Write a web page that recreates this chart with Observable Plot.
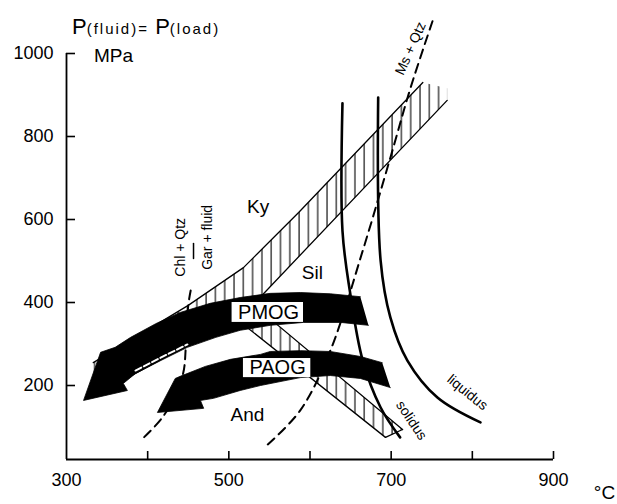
<!DOCTYPE html>
<html><head><meta charset="utf-8">
<script src="https://cdn.jsdelivr.net/npm/d3@7"></script>
<script src="https://cdn.jsdelivr.net/npm/@observablehq/plot@0.6"></script>
<style>body{margin:0;background:#fff} svg{display:block}</style>
</head><body><div id="chart"></div>
<script>
// axis ticks
const xTicks = [400, 500, 600, 700, 800, 900];
const xTickLabels = [300, 500, 700, 900];
const yTicks = [200, 400, 600, 800, 1000];

// curves [T (°C), P (MPa)]
const solidus = [[640,880],[640,573],[649,429],[665,260],[687,147],[711,75]];
const liquidus = [[684,894],[687,501],[699,364],[720,260],[757,171],[810,111]];
const msQtz = [[548,58],[588,140],[625,284],[665,525],[699,749],[724,918],[752,1084]];
const chlQtz = [[453,429],[450,393],[447,292],[443,224],[420,128],[391,67]];

// Al2SiO5 uncertainty bands
const bandOutline = [[333,255],[450,393],[518,484],[586,617],[739,930],[769,916],[769,887],[530,395],[714,94],[693,75],[509,361],[385,229],[333,173]];
const upperEdge = [[333,255],[450,393],[518,484],[586,617],[739,930]];
const kySilLower = [[769,887],[530,395]];
const silAndRight = [[530,395],[714,94]];
const silAndLeft = [[509,361],[693,75]];
const silAndCap = [[714,94],[693,75]];
const kyAndLower = [[333,173],[385,229],[509,361]];
const kyAndLowerOnArrow = [[385,236],[416,267],[449,299]];

// P-T path arrows (outlines)
const pmogArrow = [[662,414],[625,421],[588,424],[551,422],[514,412],[477,398],[440,376],[410,349],[379,316],[360,292],[342,280],[321,164],[375,188],[370,205],[385,229],[416,260],[449,292],[484,316],[514,333],[551,345],[592,352],[638,352],[672,345]];
const paogArrow = [[689,255],[662,270],[625,282],[588,284],[551,282],[539,275],[502,263],[471,246],[440,222],[434,217],[412,135],[469,145],[465,164],[481,169],[514,188],[539,200],[588,219],[625,224],[662,217],[699,195]];

// label boxes
const pathLabels = [
  {text: "PMOG", T: 549, P: 376, T1: 504, T2: 592, P1: 352, P2: 400},
  {text: "PAOG", T: 560, P: 243, T1: 518, T2: 601, P1: 219, P2: 265}
];
const fieldLabels = [
  {text: "Ky", T: 536, P: 631},
  {text: "Sil", T: 603, P: 472},
  {text: "And", T: 523, P: 130}
];
const curveLabels = [
  {text: "Ms + Qtz", T: 724, P: 1012, rot: -66},
  {text: "solidus", T: 725, P: 116, rot: 56},
  {text: "liquidus", T: 794, P: 183, rot: 39}
];
const reactionLabels = [
  {text: "Chl + Qtz", T: 440, P: 533},
  {text: "Gar + fluid", T: 474, P: 557}
];
const reactionBar = [[456.5,506],[456.5,542]];

const pts = a => a.map(([T, P]) => ({T, P}));
const L = (a, o) => Plot.line(pts(a), {x: "T", y: "P", ...o});

const chart = Plot.plot({
  width: 617, height: 504,
  marginLeft: 66, marginRight: 64, marginTop: 53, marginBottom: 45,
  x: {domain: [300, 900], axis: null},
  y: {domain: [21.7, 1000], axis: null},
  style: {fontFamily: "'Liberation Sans', Arial, sans-serif", background: "white", color: "black"},
  marks: [
    L(bandOutline, {fill: "url(#hatch)", stroke: "none"}),
    L(upperEdge, {stroke: "black", strokeWidth: 1.3}),
    L(kySilLower, {stroke: "black", strokeWidth: 1.3}),
    L(silAndRight, {stroke: "black", strokeWidth: 1.3}),
    L(silAndLeft, {stroke: "black", strokeWidth: 1.3}),
    L(silAndCap, {stroke: "black", strokeWidth: 1.3}),
    L(kyAndLower, {stroke: "black", strokeWidth: 1.3}),
    L(solidus, {stroke: "black", strokeWidth: 2.6, curve: "catmull-rom"}),
    L(liquidus, {stroke: "black", strokeWidth: 2.6, curve: "catmull-rom"}),
    L(msQtz, {stroke: "black", strokeWidth: 2, strokeDasharray: "9,6", curve: "catmull-rom"}),
    L(chlQtz, {stroke: "black", strokeWidth: 2, strokeDasharray: "9,6", curve: "catmull-rom"}),
    L(pmogArrow, {fill: "black", stroke: "black", strokeWidth: 0.8}),
    L(paogArrow, {fill: "black", stroke: "black", strokeWidth: 0.8}),
    L(kyAndLowerOnArrow, {stroke: "white", strokeWidth: 2, strokeDasharray: "6.5,2.8"}),
    Plot.rect(pathLabels, {x1: "T1", x2: "T2", y1: "P1", y2: "P2", fill: "white"}),
    Plot.text(pathLabels, {x: "T", y: "P", text: "text", fontSize: 20}),
    Plot.text(fieldLabels, {x: "T", y: "P", text: "text", fontSize: 19}),
    Plot.text(curveLabels, {x: "T", y: "P", text: "text", rotate: d => d.rot, fontSize: 14}),
    Plot.text(reactionLabels, {x: "T", y: "P", text: "text", rotate: -90, fontSize: 14}),
    L(reactionBar, {stroke: "black", strokeWidth: 1.5}),
    // axes
    Plot.ruleX([300], {strokeWidth: 1.8}),
    Plot.ruleY([21.7], {strokeWidth: 1.8}),
    Plot.tickX(xTicks, {x: d => d, insetTop: 398, strokeWidth: 1.6}),
    Plot.tickY(yTicks, {y: d => d, insetRight: 478, strokeWidth: 1.6}),
    Plot.axisX(xTickLabels, {tickSize: 0, tickPadding: 14, fontSize: 18, tickFormat: d => String(d)}),
    Plot.axisY(yTicks, {tickSize: 0, tickPadding: 13, fontSize: 18, tickFormat: d => String(d)}),
    Plot.text(["MPa"], {x: 300, y: 1000, dx: 47, dy: 2, fontSize: 19}),
    Plot.text(["°C"], {x: 900, y: 21.7, dx: 51, dy: 33, fontSize: 19})
  ]
});

const svg = d3.select(chart);
const pat = svg.insert("defs", ":first-child").append("pattern")
  .attr("id", "hatch").attr("patternUnits", "userSpaceOnUse")
  .attr("width", 9.3).attr("height", 10);
pat.append("line").attr("x1", 1).attr("x2", 1).attr("y1", 0).attr("y2", 10)
  .attr("stroke", "black").attr("stroke-width", 1.1);

const title = svg.append("text").attr("x", 72).attr("y", 34).attr("text-anchor", "start")
  .attr("font-family", "'Liberation Sans', Arial, sans-serif").attr("fill", "black");
title.append("tspan").attr("font-size", 22).text("P");
title.append("tspan").attr("font-size", 15).attr("letter-spacing", 2).text("(fluid)= ");
title.append("tspan").attr("font-size", 22).text("P");
title.append("tspan").attr("font-size", 15).attr("letter-spacing", 2).text("(load)");

document.getElementById("chart").appendChild(chart);
</script></body></html>
